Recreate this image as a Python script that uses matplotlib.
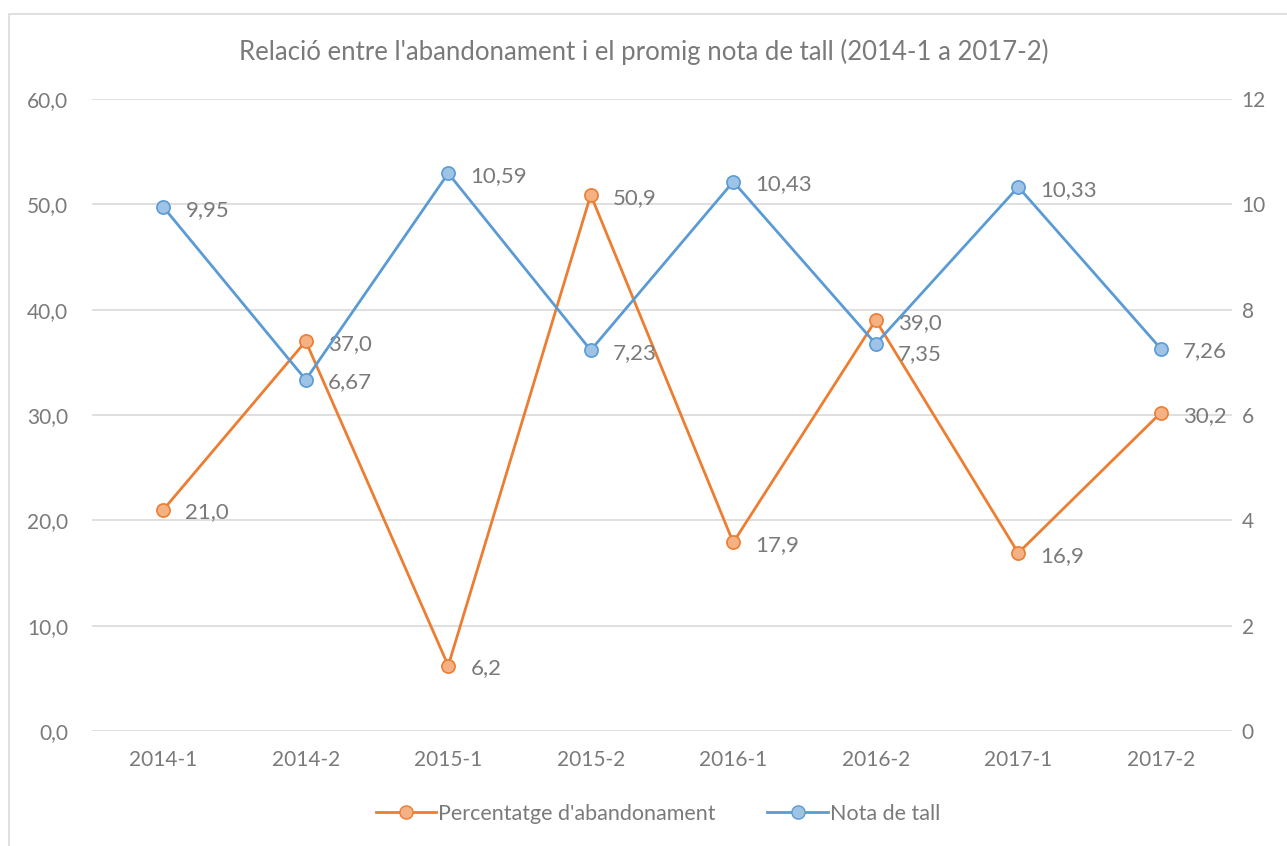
import matplotlib.pyplot as plt
from matplotlib.patches import Rectangle
from matplotlib.lines import Line2D

# Data
semesters = ["2014-1", "2014-2", "2015-1", "2015-2", "2016-1", "2016-2", "2017-1", "2017-2"]
abandonament = [21.0, 37.0, 6.2, 50.9, 17.9, 39.0, 16.9, 30.2]
nota_tall = [9.95, 6.67, 10.59, 7.23, 10.43, 7.35, 10.33, 7.26]

ORANGE = "#ED7D31"
ORANGE_FACE = "#F4B183"
BLUE = "#5B9BD5"
BLUE_FACE = "#9DC3E6"
TEXT = "#7A7A7A"
GRID = "#D9D9D9"

plt.rcParams["font.family"] = ["Lato", "DejaVu Sans"]

fig = plt.figure(figsize=(12.87, 8.46), dpi=100)
fig.patches.append(Rectangle((9 / 1287, -0.05), 1.1, 1 - 14 / 846 + 0.05,
                             transform=fig.transFigure, fill=False,
                             edgecolor=GRID, linewidth=1.2))

ax = fig.add_axes([92 / 1287, 1 - 731 / 846, 1140 / 1287, 632 / 846])
ax2 = ax.twinx()

x = list(range(len(semesters)))

ax.plot(x, abandonament, color=ORANGE, linewidth=2, marker="o", markersize=9.5,
        markerfacecolor=ORANGE_FACE, markeredgecolor=ORANGE, markeredgewidth=1.2, zorder=3)
ax2.plot(x, nota_tall, color=BLUE, linewidth=2, marker="o", markersize=9.5,
         markerfacecolor=BLUE_FACE, markeredgecolor=BLUE, markeredgewidth=1.2, zorder=3)

for xi, v in zip(x, abandonament):
    ax.annotate(f"{v:.1f}".replace(".", ","), (xi, v), xytext=(16, -2),
                textcoords="offset points", ha="left", va="center",
                fontsize=16, color=TEXT)
for xi, v in zip(x, nota_tall):
    dy = -7 if semesters[xi] == "2016-2" else -2
    ax2.annotate(f"{v:.2f}".replace(".", ","), (xi, v), xytext=(16, dy),
                 textcoords="offset points", ha="left", va="center",
                 fontsize=16, color=TEXT)

ax.set_xlim(-0.5, len(semesters) - 0.5)
ax.set_ylim(0, 60)
ax2.set_ylim(0, 12)
ax.set_yticks(range(0, 61, 10))
ax.set_yticklabels([f"{t:.1f}".replace(".", ",") for t in range(0, 61, 10)])
ax2.set_yticks(range(0, 13, 2))
ax.set_xticks(x)
ax.set_xticklabels(semesters)

ax.grid(axis="y", color=GRID, linewidth=1.2)
ax.set_axisbelow(True)
for a in (ax, ax2):
    for s in a.spines.values():
        s.set_visible(False)
    a.tick_params(length=0, labelsize=15, colors=TEXT)
ax.tick_params(axis="y", pad=17)
ax.tick_params(axis="x", pad=14)
ax2.tick_params(axis="y", pad=7)

fig.text(0.5, 1 - 52 / 846, "Relació entre l'abandonament i el promig nota de tall (2014-1 a 2017-2)",
         ha="center", va="center", fontsize=18.5, color=TEXT)

handles = [
    Line2D([], [], color=ORANGE, linewidth=2, marker="o", markersize=9.5,
           markerfacecolor=ORANGE_FACE, markeredgecolor=ORANGE),
    Line2D([], [], color=BLUE, linewidth=2, marker="o", markersize=9.5,
           markerfacecolor=BLUE_FACE, markeredgecolor=BLUE),
]
leg = fig.legend(handles, ["Percentatge d'abandonament", "Nota de tall"],
                 loc="center", bbox_to_anchor=(658 / 1287, 1 - 814 / 846), ncol=2,
                 frameon=False, fontsize=15.5, handlelength=2.8, handletextpad=0.1,
                 columnspacing=2.4)
for t in leg.get_texts():
    t.set_color(TEXT)

fig.savefig("out.png", dpi=100)
